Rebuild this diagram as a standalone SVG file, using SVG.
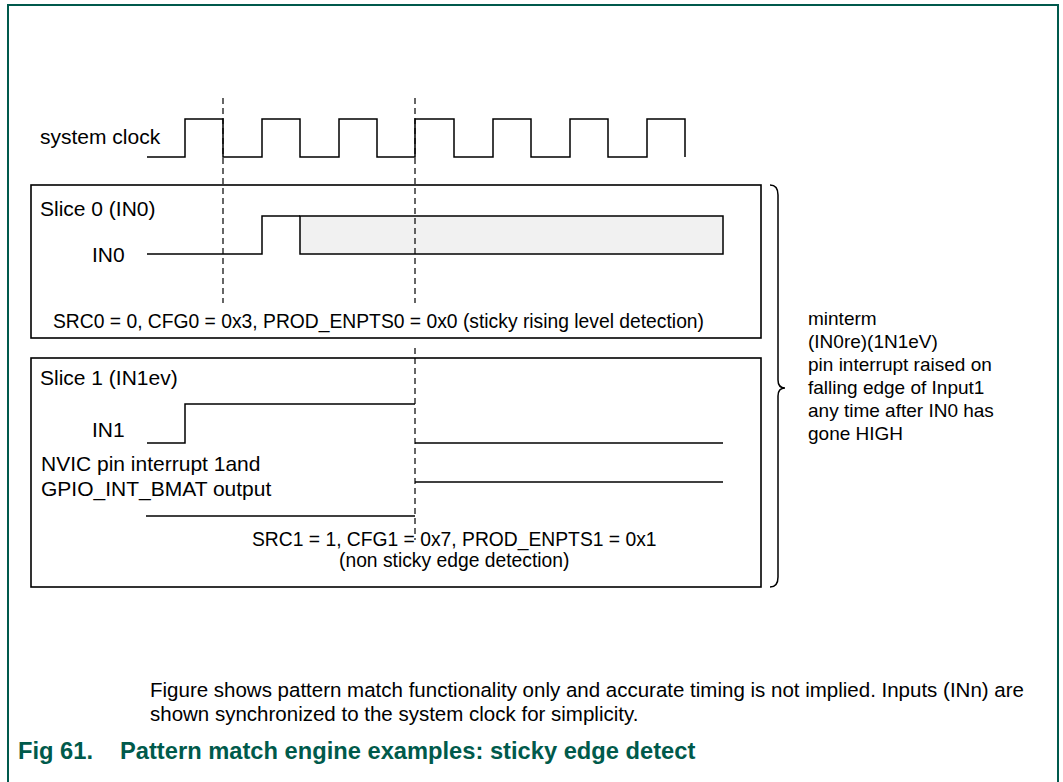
<svg xmlns="http://www.w3.org/2000/svg" width="1063" height="782" viewBox="0 0 1063 782">
<style>
text{font-family:"Liberation Sans",Arial,sans-serif;fill:#000}
.t{font-size:21px}
.n{font-size:20.5px}
.s{font-size:19.3px}
.m{font-size:19px}
.w{fill:none;stroke:#000;stroke-width:1.5}
.d{fill:none;stroke:#000;stroke-width:1.2;stroke-dasharray:6 4}
.box{fill:none;stroke:#000;stroke-width:1.6}
.cap{font-size:23.7px;font-weight:bold;fill:#005a4b}
</style>
<rect width="1063" height="782" fill="#fff"/>
<path d="M8,782 V5 H1058 V782" fill="none" stroke="#00594c" stroke-width="2"/>

<g id="clock">
<text class="t" x="40" y="144">system clock</text>
<path class="w" d="M147,157 H185 V119 H223 V157 H262 V119 H300 V157 H339 V119 H377 V157 H415 V119 H454 V157 H493 V119 H531 V157 H570 V119 H608 V157 H647 V119 H685 V157"/>
</g>

<g id="slice0">
<rect class="box" x="31" y="185" width="730" height="153"/>
<text class="t" x="40" y="216">Slice 0 (IN0)</text>
<text class="t" x="92" y="262">IN0</text>
<path class="w" d="M147,254 H262 V216 H300"/>
<rect x="300" y="216" width="423" height="38" fill="#f1f1f1" stroke="#000" stroke-width="1.5"/>
<text class="s" x="53" y="328">SRC0 = 0, CFG0 = 0x3, PROD_ENPTS0 = 0x0 (sticky rising level detection)</text>
</g>

<g id="slice1">
<rect class="box" x="31" y="358" width="730" height="229"/>
<text class="t" x="40" y="385">Slice 1 (IN1ev)</text>
<text class="t" x="92" y="437">IN1</text>
<path class="w" d="M147,443 H185 V404 H415"/>
<path class="w" d="M415,443 H723"/>
<text class="t" x="41" y="471">NVIC pin interrupt 1and</text>
<text class="t" x="41" y="496">GPIO_INT_BMAT output</text>
<path class="w" d="M146,516 H415"/>
<path class="w" d="M415,482 H723"/>
<text class="s" x="252" y="546">SRC1 = 1, CFG1 = 0x7, PROD_ENPTS1 = 0x1</text>
<text class="s" x="339" y="567">(non sticky edge detection)</text>
</g>

<g id="connectors">
<path class="d" d="M223,98 V303"/>
<path class="d" d="M415,98 V303 M415,348 V540"/>
<path class="w" d="M770,185 Q778,185 778,195 V380 Q778,388 785,388 Q778,388 778,396 V577 Q778,587 770,587"/>
</g>

<g id="minterm">
<text class="m" x="808" y="325">minterm</text>
<text class="m" x="808" y="348">(IN0re)(1N1eV)</text>
<text class="m" x="808" y="371">pin interrupt raised on</text>
<text class="m" x="808" y="394">falling edge of Input1</text>
<text class="m" x="808" y="417">any time after IN0 has</text>
<text class="m" x="808" y="440">gone HIGH</text>
</g>

<g id="notes">
<text class="n" x="150" y="697">Figure shows pattern match functionality only and accurate timing is not implied. Inputs (INn) are</text>
<text class="n" x="150" y="721">shown synchronized to the system clock for simplicity.</text>
<text class="cap" x="18" y="759">Fig 61.</text>
<text class="cap" x="120" y="759">Pattern match engine examples: sticky edge detect</text>
</g>
</svg>
